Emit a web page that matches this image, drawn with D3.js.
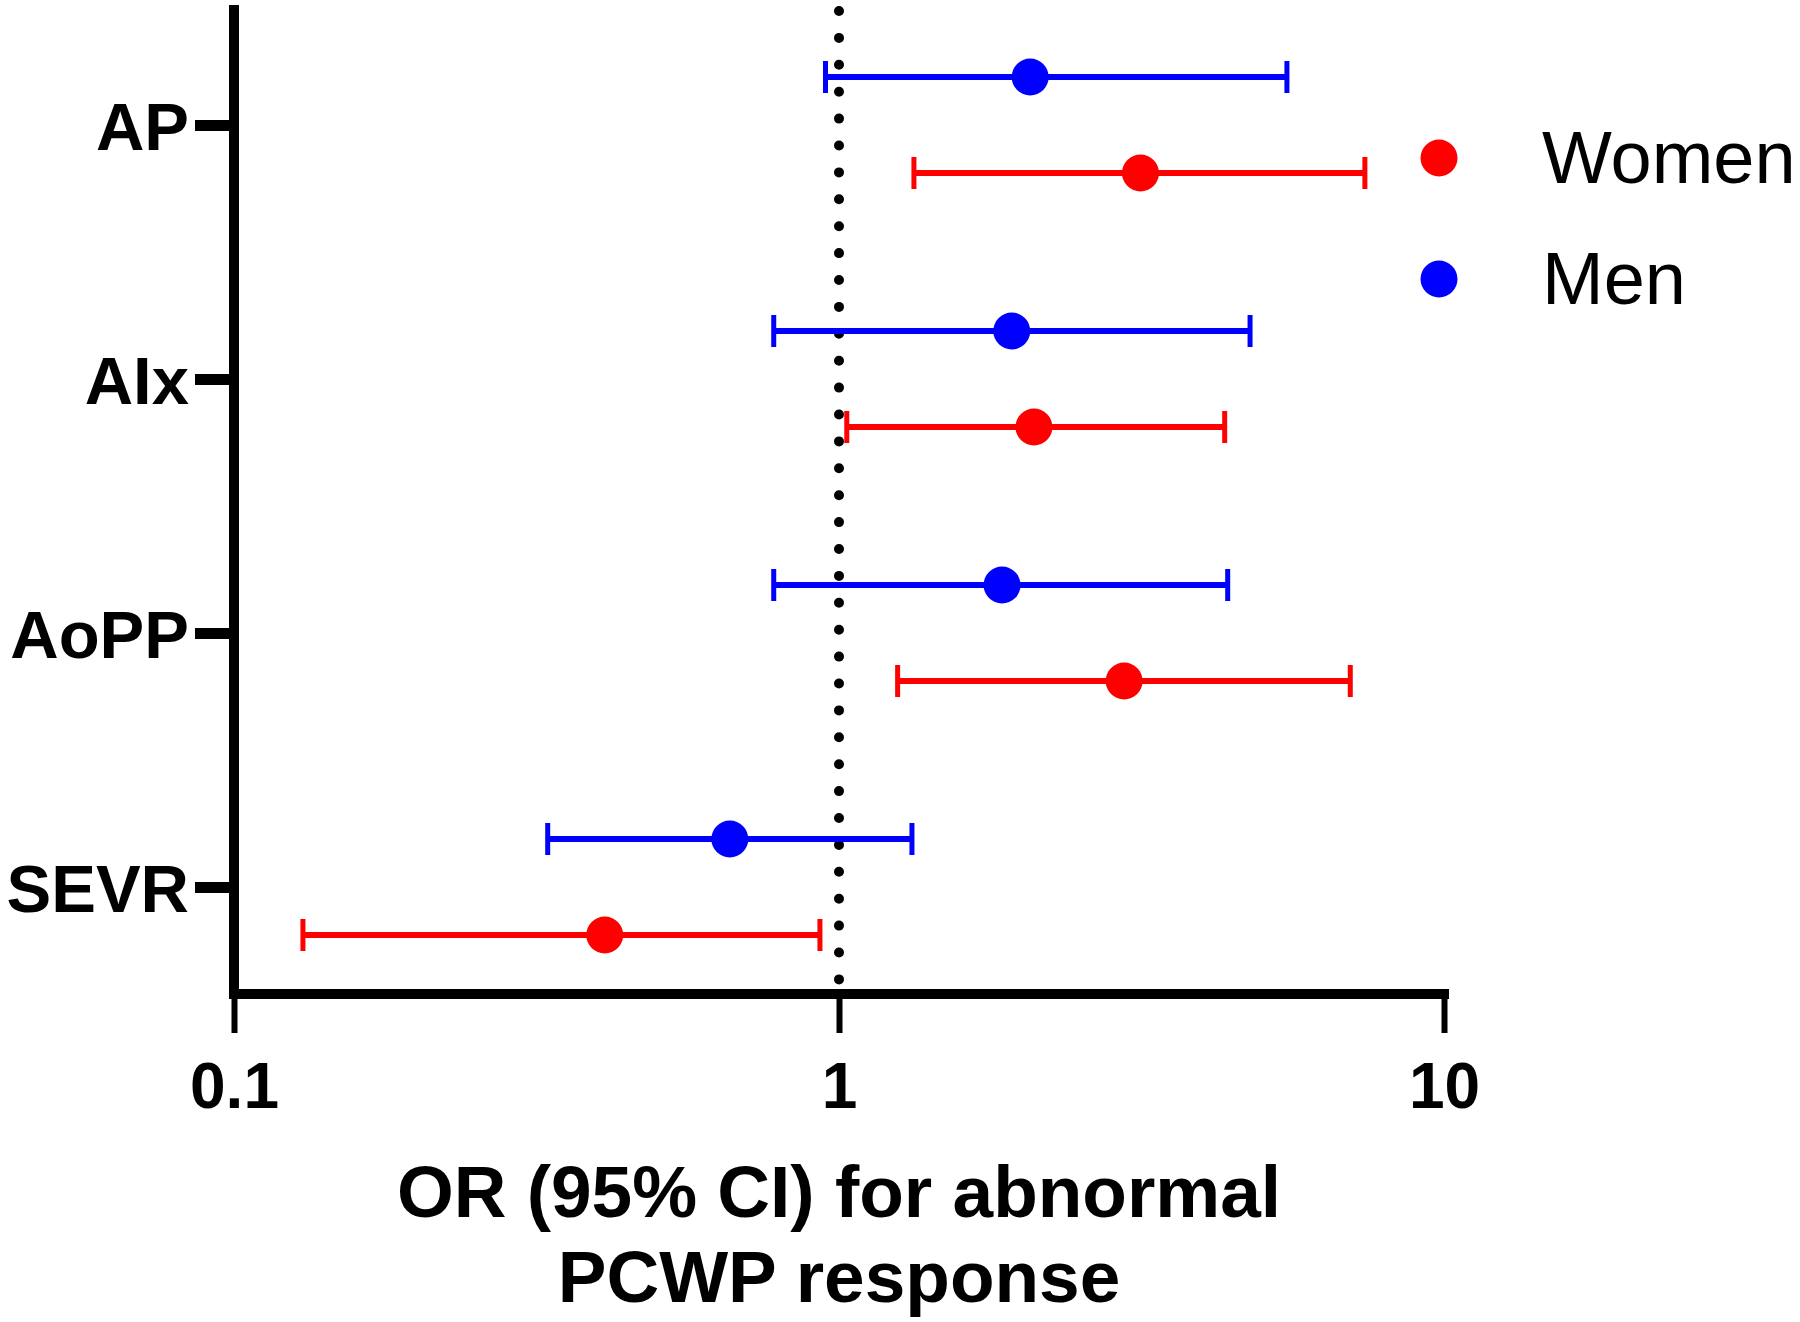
<!DOCTYPE html>
<html>
<head>
<meta charset="utf-8">
<script src="https://cdn.jsdelivr.net/npm/d3@7"></script>
<style>
  html, body { margin: 0; padding: 0; background: #fff; }
  svg { display: block; font-family: "Liberation Sans", Arial, sans-serif; }
</style>
</head>
<body>
<svg id="chart" width="1800" height="1322"></svg>
<script>
const categories = ["AP", "AIx", "AoPP", "SEVR"];
const seriesNames = ["Women", "Men"];
const seriesColors = ["#FF0000", "#0000FF"];
const menOR = [2.07, 1.93, 1.86, 0.66];
const menLo = [0.95, 0.78, 0.78, 0.33];
const menHi = [5.50, 4.78, 4.39, 1.32];
const womenOR = [3.15, 2.10, 2.96, 0.41];
const womenLo = [1.33, 1.03, 1.25, 0.13];
const womenHi = [7.40, 4.34, 7.00, 0.93];
const xTicks = [0.1, 1, 10];
const xTitle = ["OR (95% CI) for abnormal", "PCWP response"];

(function () {
const svg = d3.select("#chart");
const plotLeft = 234, plotRight = 1444, axisY = 994, plotTop = 5;

const x = d3.scaleLog().domain([0.1, 10]).range([plotLeft, plotRight]);
const y = d3.scalePoint().domain(categories).range([125, 887]);
const sub = d3.scalePoint().domain(["Men", "Women"]).range([-48, 48]);

const rows = [];
categories.forEach((c, i) => {
  rows.push({cat: c, s: "Men", color: seriesColors[1], or: menOR[i], lo: menLo[i], hi: menHi[i]});
  rows.push({cat: c, s: "Women", color: seriesColors[0], or: womenOR[i], lo: womenLo[i], hi: womenHi[i]});
});

// dotted reference line at OR = 1
svg.append("line")
  .attr("x1", x(1)).attr("x2", x(1))
  .attr("y1", 11).attr("y2", 985)
  .attr("stroke", "#000").attr("stroke-width", 10)
  .attr("stroke-linecap", "round")
  .attr("stroke-dasharray", "0 26.9");

// error bars
const g = svg.append("g");
const eb = g.selectAll("g.eb").data(rows).enter().append("g").attr("class", "eb");
eb.append("line")
  .attr("x1", d => x(d.lo)).attr("x2", d => x(d.hi))
  .attr("y1", d => y(d.cat) + sub(d.s)).attr("y2", d => y(d.cat) + sub(d.s))
  .attr("stroke", d => d.color).attr("stroke-width", 6);
["lo", "hi"].forEach(k => {
  eb.append("line")
    .attr("x1", d => x(d[k])).attr("x2", d => x(d[k]))
    .attr("y1", d => y(d.cat) + sub(d.s) - 16).attr("y2", d => y(d.cat) + sub(d.s) + 16)
    .attr("stroke", d => d.color).attr("stroke-width", 5);
});
eb.append("circle")
  .attr("cx", d => x(d.or)).attr("cy", d => y(d.cat) + sub(d.s))
  .attr("r", 18.5).attr("fill", d => d.color);

// axes
const xAxis = d3.axisBottom(x).tickValues(xTicks).tickFormat(d => String(d)).tickSize(39).tickSizeOuter(0);
const xg = svg.append("g").attr("transform", `translate(0,${axisY})`).call(xAxis);
xg.select(".domain").remove();
xg.selectAll(".tick line").attr("stroke", "#000").attr("stroke-width", 6);
xg.selectAll(".tick text")
  .attr("y", 114).attr("dy", null)
  .attr("fill", "#000")
  .style("font-family", "'Liberation Sans', Arial, sans-serif")
  .style("font-size", "64px").style("font-weight", "bold");

const yAxis = d3.axisLeft(y).tickSize(39).tickSizeOuter(0);
const yg = svg.append("g").attr("transform", `translate(${plotLeft},0)`).call(yAxis);
yg.select(".domain").remove();
yg.selectAll(".tick line").attr("stroke", "#000").attr("stroke-width", 11);
yg.selectAll(".tick text")
  .attr("x", -45).attr("dy", "0.36em")
  .attr("fill", "#000")
  .style("font-family", "'Liberation Sans', Arial, sans-serif")
  .style("font-size", "67px").style("font-weight", "bold");

// axis lines
svg.append("line").attr("x1", plotLeft).attr("x2", plotLeft).attr("y1", plotTop).attr("y2", axisY + 5)
  .attr("stroke", "#000").attr("stroke-width", 10);
svg.append("line").attr("x1", plotLeft - 5).attr("x2", plotRight + 5).attr("y1", axisY).attr("y2", axisY)
  .attr("stroke", "#000").attr("stroke-width", 10);

// x axis title
svg.append("text").attr("x", x(1)).attr("y", 1217).attr("text-anchor", "middle")
  .style("font-size", "73px").style("font-weight", "bold").text(xTitle[0]);
svg.append("text").attr("x", x(1)).attr("y", 1302).attr("text-anchor", "middle")
  .style("font-size", "73px").style("font-weight", "bold").text(xTitle[1]);

// legend
const legY = d3.scalePoint().domain(seriesNames).range([158, 279]);
const lg = svg.selectAll("g.leg").data(seriesNames).enter().append("g").attr("class", "leg");
lg.append("circle").attr("cx", 1439).attr("cy", d => legY(d)).attr("r", 18.5)
  .attr("fill", (d, i) => seriesColors[i]);
lg.append("text").attr("x", 1542).attr("y", d => legY(d) + 25)
  .style("font-size", "74px").attr("fill", "#000").text(d => d);
})();
</script>
</body>
</html>
